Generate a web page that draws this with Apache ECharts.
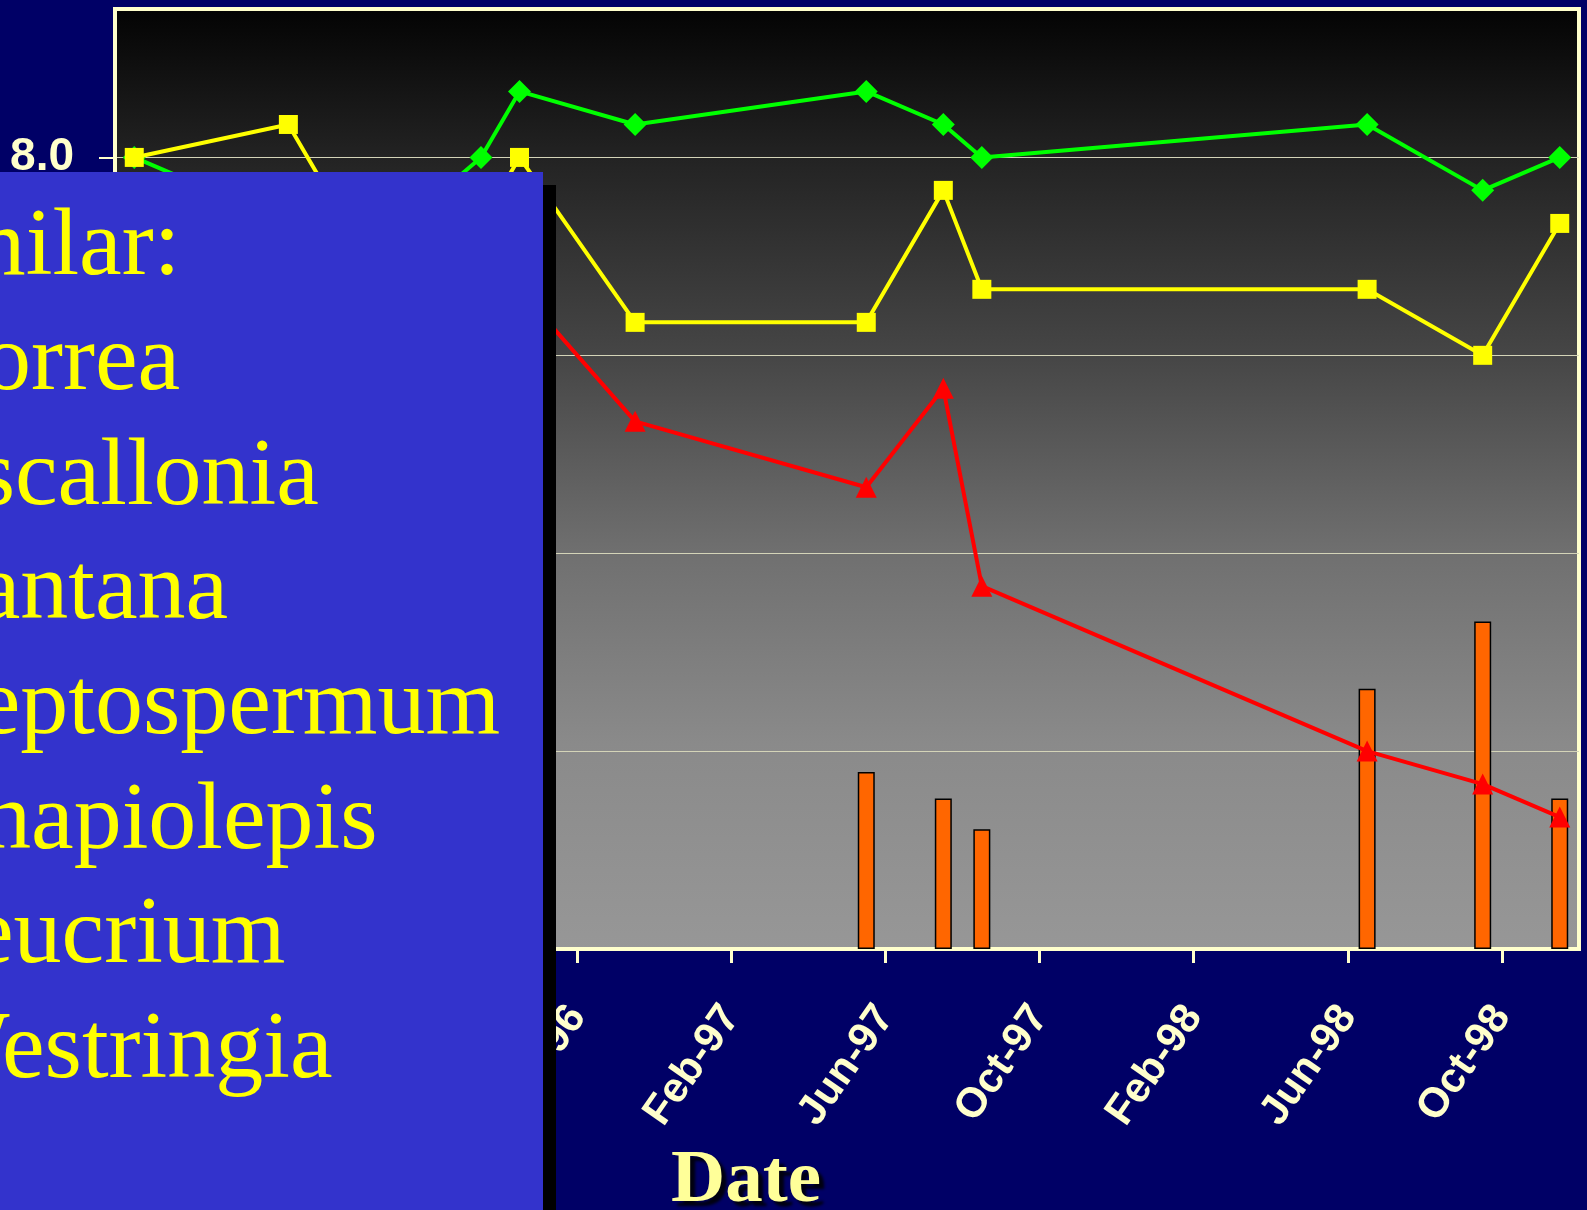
<!DOCTYPE html>
<html>
<head>
<meta charset="utf-8">
<script src="https://cdn.jsdelivr.net/npm/echarts@6/dist/echarts.min.js"></script>
<style>
  html, body { margin: 0; padding: 0; background: #000066; }
  #chart { width: 1587px; height: 1210px; }
</style>
</head>
<body>
<div id="chart"></div>
<script>
// Date axis runs month by month from Oct-95 to Nov-98; every month gets the same width.
const axisStart = [1995, 10];
const monthSpan = 38;
const tickLabels = ['Oct-95', 'Feb-96', 'Jun-96', 'Oct-96', 'Feb-97', 'Jun-97', 'Oct-97', 'Feb-98', 'Jun-98', 'Oct-98'];
const yTicks = [0, 2, 4, 6, 8];

// Sampling months shared by the three rating lines
const sampleMonths = ['1995-10', '1996-02', '1996-05', '1996-07', '1996-08', '1996-11',
                      '1997-05', '1997-07', '1997-08', '1998-06', '1998-09', '1998-11'];
const greenValues  = [8.0, 7.333, 7.333, 8.0, 8.667, 8.333, 8.667, 8.333, 8.0, 8.333, 7.667, 8.0];
const yellowValues = [8.0, 8.333, 6.333, 7.333, 8.0, 6.333, 6.333, 7.667, 6.667, 6.667, 6.0, 7.333];
const redValues    = [7.667, 7.333, 7.0, 7.0, 6.667, 5.333, 4.667, 5.667, 3.667, 2.0, 1.667, 1.333];

// Bars
const barMonths = ['1997-05', '1997-07', '1997-08', '1998-06', '1998-09', '1998-11'];
const barValues = [1.79, 1.52, 1.21, 2.63, 3.31, 1.52];

// Text panel
const listHeader = 'Similar:';
const listItems = ['Correa', 'Escallonia', 'Lantana', 'Leptospermum', 'Rhapiolepis', 'Teucrium', 'Westringia'];

// month string -> position on the month axis (centre of that month)
function toAxisMonth(s) {
  const [y, m] = s.split('-').map(Number);
  return (y - axisStart[0]) * 12 + (m - axisStart[1]) + 0.5;
}
function pairs(months, values) {
  return months.map((s, i) => [toAxisMonth(s), values[i]]);
}
const xTickValues = tickLabels.map((_, i) => i * 4);

const cream = '#FFFFCC';
const chart = echarts.init(document.getElementById('chart'), null, { renderer: 'canvas' });

// Text panel elements
const panelFont = '96px "Liberation Serif"';
const lineStep = 114.7;
const firstBaseline = 281;
const baselineToMiddle = 32;
const panelTexts = [listHeader].concat(listItems).map((t, i) => ({
  type: 'text',
  z: 102,
  x: i === 0 ? -129 : -81,
  y: firstBaseline + i * lineStep - baselineToMiddle,
  style: { text: t, font: panelFont, fill: '#FFFF00', verticalAlign: 'middle', align: 'left' }
}));

const option = {
  backgroundColor: '#000066',
  animation: false,
  title: {
    text: 'Date',
    left: 671,
    top: 1144,
    padding: 0,
    textStyle: {
      fontFamily: 'Liberation Serif',
      fontWeight: 'bold',
      fontSize: 75,
      color: '#FFFF99',
      textShadowColor: 'rgba(0,0,0,0.85)',
      textShadowBlur: 3,
      textShadowOffsetX: 5,
      textShadowOffsetY: 5
    }
  },
  grid: {
    left: 115,
    right: 8,
    top: 9,
    bottom: 261,
    show: true,
    borderColor: cream,
    borderWidth: 4,
    backgroundColor: new echarts.graphic.LinearGradient(0, 0, 0, 1, [
      { offset: 0, color: '#030303' },
      { offset: 0.16, color: '#232323' },
      { offset: 0.37, color: '#464646' },
      { offset: 0.58, color: '#707070' },
      { offset: 0.78, color: '#8a8a8a' },
      { offset: 1, color: '#979797' }
    ])
  },
  xAxis: {
    type: 'value',
    min: 0,
    max: monthSpan,
    interval: 4,
    axisLine: { show: true, lineStyle: { color: cream, width: 4 } },
    axisTick: { show: true, length: 14, customValues: xTickValues, lineStyle: { color: cream, width: 3 } },
    axisLabel: {
      customValues: xTickValues,
      formatter: v => tickLabels[Math.round(v / 4)] || '',
      rotate: 55,
      margin: 61,
      color: cream,
      fontFamily: 'Liberation Sans',
      fontWeight: 'bold',
      fontSize: 42
    },
    splitLine: { show: false }
  },
  yAxis: {
    type: 'value',
    min: 0,
    max: 9.5,
    interval: 2,
    axisLine: { show: true, lineStyle: { color: cream, width: 4 } },
    axisTick: { show: true, length: 16, customValues: yTicks, lineStyle: { color: cream, width: 2 } },
    axisLabel: {
      customValues: yTicks,
      formatter: v => (v % 2 === 0 ? v.toFixed(1) : ''),
      margin: 41,
      color: cream,
      fontFamily: 'Liberation Sans',
      fontWeight: 'bold',
      fontSize: 46
    },
    splitLine: { show: true, lineStyle: { color: '#d4d4b8', width: 1 } }
  },
  series: [
    {
      type: 'bar',
      data: pairs(barMonths, barValues),
      barWidth: 17,
      itemStyle: { color: '#FF6600', borderColor: '#000000', borderWidth: 1.5 },
      z: 2
    },
    {
      type: 'line',
      data: pairs(sampleMonths, greenValues),
      symbol: 'diamond',
      symbolSize: 23,
      lineStyle: { color: '#00FF00', width: 4 },
      itemStyle: { color: '#00FF00' },
      z: 3
    },
    {
      type: 'line',
      data: pairs(sampleMonths, redValues),
      symbol: 'triangle',
      symbolSize: 21,
      lineStyle: { color: '#FF0000', width: 4 },
      itemStyle: { color: '#FF0000' },
      z: 4
    },
    {
      type: 'line',
      data: pairs(sampleMonths, yellowValues),
      symbol: 'rect',
      symbolSize: 19,
      lineStyle: { color: '#FFFF00', width: 4 },
      itemStyle: { color: '#FFFF00' },
      z: 5
    }
  ],
  graphic: [
    { type: 'rect', z: 100, shape: { x: 13, y: 185, width: 543, height: 1040 }, style: { fill: '#000000' } },
    { type: 'rect', z: 101, shape: { x: 0, y: 172, width: 543, height: 1040 }, style: { fill: '#3333CC' } }
  ].concat(panelTexts)
};

chart.setOption(option);
</script>
</body>
</html>
